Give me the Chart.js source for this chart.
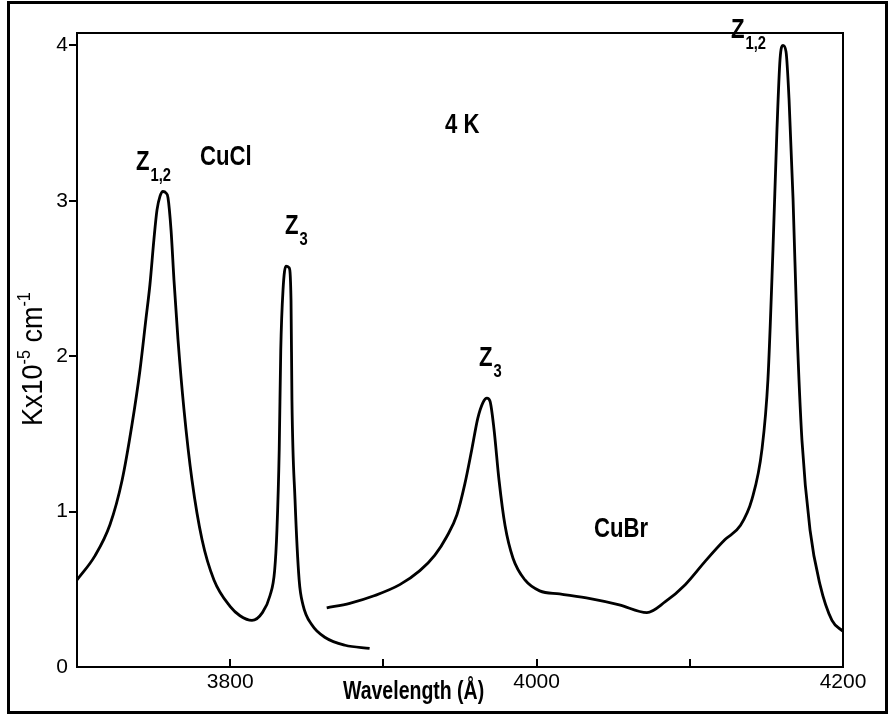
<!DOCTYPE html>
<html>
<head>
<meta charset="utf-8">
<title>CuCl / CuBr exciton absorption, 4 K</title>
<script src="https://cdn.jsdelivr.net/npm/chart.js@4.4.1/dist/chart.umd.min.js"></script>
<style>
  html, body { margin: 0; padding: 0; background: #fff; }
  #wrap { width: 889px; height: 715px; }
</style>
</head>
<body>
<div id="wrap"><canvas id="chart" width="889" height="715"></canvas></div>
<script>
// Absorption coefficient K (x10^5 cm^-1) against wavelength (Å)
const cuclWavelength = [3700, 3711.7, 3721.5, 3729.4, 3735.9, 3741.1, 3745, 3747.6, 3750.2, 3752.2, 3754.2,
  3756.1, 3758.1, 3759.4, 3761.4, 3763.3, 3765.9, 3769.8, 3775.1, 3781.6, 3789.4, 3799.9, 3806.4, 3814.2,
  3821, 3826, 3829, 3830.5, 3832, 3833, 3834.5, 3836.4, 3838.4, 3839.7, 3840.3, 3842.3, 3845, 3847.5,
  3853.4, 3862, 3875, 3891];
const cuclK = [0.56, 0.715, 0.915, 1.20, 1.56, 1.91, 2.24, 2.46, 2.75, 2.94, 3.03,
  3.06, 3.05, 3.02, 2.81, 2.49, 2.11, 1.66, 1.20, 0.82, 0.56, 0.39, 0.33, 0.30,
  0.35, 0.46, 0.62, 0.88, 1.40, 2.04, 2.43, 2.58, 2.57, 2.36, 1.72, 1.08, 0.56, 0.40,
  0.27, 0.19, 0.14, 0.12];

const cubrWavelength = [3863, 3878, 3894.4, 3910.7, 3923.8, 3933.6, 3941.4, 3948, 3953.2, 3957.7, 3961.6,
  3964.9, 3967.6, 3969.6, 3972.2, 3975.5, 3979.4, 3984.6, 3992.4, 4002, 4015, 4035, 4054, 4072, 4084,
  4097, 4110, 4123, 4133, 4140.6, 4147.1, 4151, 4154.3, 4156.9, 4158.9, 4160.8, 4162.8, 4164.8, 4167.4,
  4170, 4173.2, 4178.5, 4185, 4192.8, 4200];
const cubrK = [0.38, 0.41, 0.46, 0.53, 0.62, 0.72, 0.84, 0.98, 1.18, 1.40, 1.60,
  1.70, 1.73, 1.71, 1.53, 1.20, 0.91, 0.70, 0.56, 0.49, 0.47, 0.44, 0.40, 0.35, 0.42,
  0.53, 0.68, 0.82, 0.91, 1.08, 1.40, 1.85, 2.69, 3.46, 3.91, 4.00, 3.96, 3.65, 3.01,
  2.17, 1.46, 0.88, 0.53, 0.30, 0.23];

const xTickValues = [3800, 3900, 4000, 4100, 4200];
const xTickLabels = ['3800', '', '4000', '', '4200'];
const yTickValues = [0, 1, 2, 3, 4];
const yTickLabels = ['0', '1', '2', '3', '4'];

const PLAIN = "'Liberation Sans', Arial, sans-serif";
const NARROW_SCALE = 0.82;   // squeeze Liberation Sans into a condensed face

const toPoints = (xs, ys) => xs.map((x, i) => ({ x: x, y: ys[i] }));

// condensed text: draw horizontally scaled, return advance width
function fillNarrow(ctx, text, x, y, font, squeeze) {
  const s = squeeze || NARROW_SCALE;
  ctx.font = font;
  ctx.save();
  ctx.translate(x, y);
  ctx.scale(s, 1);
  ctx.fillText(text, 0, 0);
  ctx.restore();
  return ctx.measureText(text).width * s;
}

// bold label with an optional subscript, e.g. Z with "1,2"
function drawSub(ctx, text, sub, x, y) {
  const w = fillNarrow(ctx, text, x, y, 'bold 27px ' + PLAIN);
  if (sub) fillNarrow(ctx, sub, x + w + 1, y + 11, 'bold 18px ' + PLAIN);
}

const decorations = {
  id: 'decorations',
  beforeDraw(chart) {
    const ctx = chart.ctx;
    ctx.save();
    ctx.fillStyle = '#fff';
    ctx.fillRect(0, 0, chart.width, chart.height);
    ctx.restore();
  },
  afterDraw(chart) {
    const ctx = chart.ctx;
    const a = chart.chartArea;
    const xs = chart.scales.x;
    ctx.save();
    ctx.strokeStyle = '#000';
    ctx.fillStyle = '#000';
    ctx.textAlign = 'left';
    ctx.textBaseline = 'alphabetic';

    // outer frame
    ctx.lineWidth = 3;
    ctx.strokeRect(8.5, 2.5, 878, 710);

    // plot box
    ctx.lineWidth = 2;
    ctx.strokeRect(a.left, a.top, a.right - a.left, a.bottom - a.top);

    // x ticks point inward
    xTickValues.forEach(v => {
      const px = Math.round(xs.getPixelForValue(v));
      if (px >= a.right - 1) return;
      ctx.beginPath();
      ctx.moveTo(px, a.bottom);
      ctx.lineTo(px, a.bottom - 8);
      ctx.stroke();
    });

    // x axis title
    fillNarrow(ctx, 'Wavelength (Å)', 343, 699, 'bold 26px ' + PLAIN, 0.75);

    // y axis title, rotated, with superscripts
    ctx.save();
    ctx.translate(42, 426);
    ctx.rotate(-Math.PI / 2);
    const parts = [['Kx10', false], ['-5', true], [' cm', false], ['-1', true]];
    let cx = 0;
    parts.forEach(([t, sup]) => {
      cx += fillNarrow(ctx, t, cx, sup ? -12 : 0, (sup ? '18px ' : '30px ') + PLAIN, 0.9);
    });
    ctx.restore();

    // peak and sample labels
    drawSub(ctx, 'Z', '1,2', 136, 170);
    drawSub(ctx, 'CuCl', null, 200, 165);
    drawSub(ctx, 'Z', '3', 285, 234);
    drawSub(ctx, '4 K', null, 445, 133);
    drawSub(ctx, 'Z', '3', 479, 366);
    drawSub(ctx, 'CuBr', null, 594, 537);
    drawSub(ctx, 'Z', '1,2', 731, 38);

    ctx.restore();
  }
};

const lineStyle = {
  borderColor: '#000',
  borderWidth: 2.8,
  pointRadius: 0,
  cubicInterpolationMode: 'monotone',
  fill: false
};

new Chart(document.getElementById('chart'), {
  type: 'line',
  data: {
    datasets: [
      Object.assign({ label: 'CuCl', data: toPoints(cuclWavelength, cuclK) }, lineStyle),
      Object.assign({ label: 'CuBr', data: toPoints(cubrWavelength, cubrK) }, lineStyle)
    ]
  },
  options: {
    responsive: false,
    animation: false,
    devicePixelRatio: 1,
    layout: { padding: { left: 0, top: 33, right: 46, bottom: 0 } },
    plugins: {
      legend: { display: false },
      tooltip: { enabled: false }
    },
    scales: {
      x: {
        type: 'linear',
        min: 3700,
        max: 4200,
        afterBuildTicks: scale => { scale.ticks = xTickValues.map(v => ({ value: v })); },
        afterFit: scale => { scale.height = 48; },
        grid: { display: false, drawTicks: false },
        border: { display: false },
        ticks: {
          color: '#000',
          padding: 3,
          maxRotation: 0,
          autoSkip: false,
          font: { family: PLAIN, size: 21 },
          callback: v => xTickLabels[xTickValues.indexOf(v)] || ''
        }
      },
      y: {
        min: 0,
        max: 4.08,
        afterBuildTicks: scale => { scale.ticks = yTickValues.map(v => ({ value: v })); },
        afterFit: scale => { scale.width = 77; },
        grid: {
          drawOnChartArea: false,
          drawTicks: true,
          tickLength: 8,
          lineWidth: 2,
          color: c => (c.tick && c.tick.value === 0 ? 'rgba(0,0,0,0)' : '#000')
        },
        border: { display: false },
        ticks: {
          color: '#000',
          padding: 1,
          font: { family: PLAIN, size: 21 },
          callback: v => yTickLabels[yTickValues.indexOf(v)]
        }
      }
    }
  },
  plugins: [decorations]
});
</script>
</body>
</html>
